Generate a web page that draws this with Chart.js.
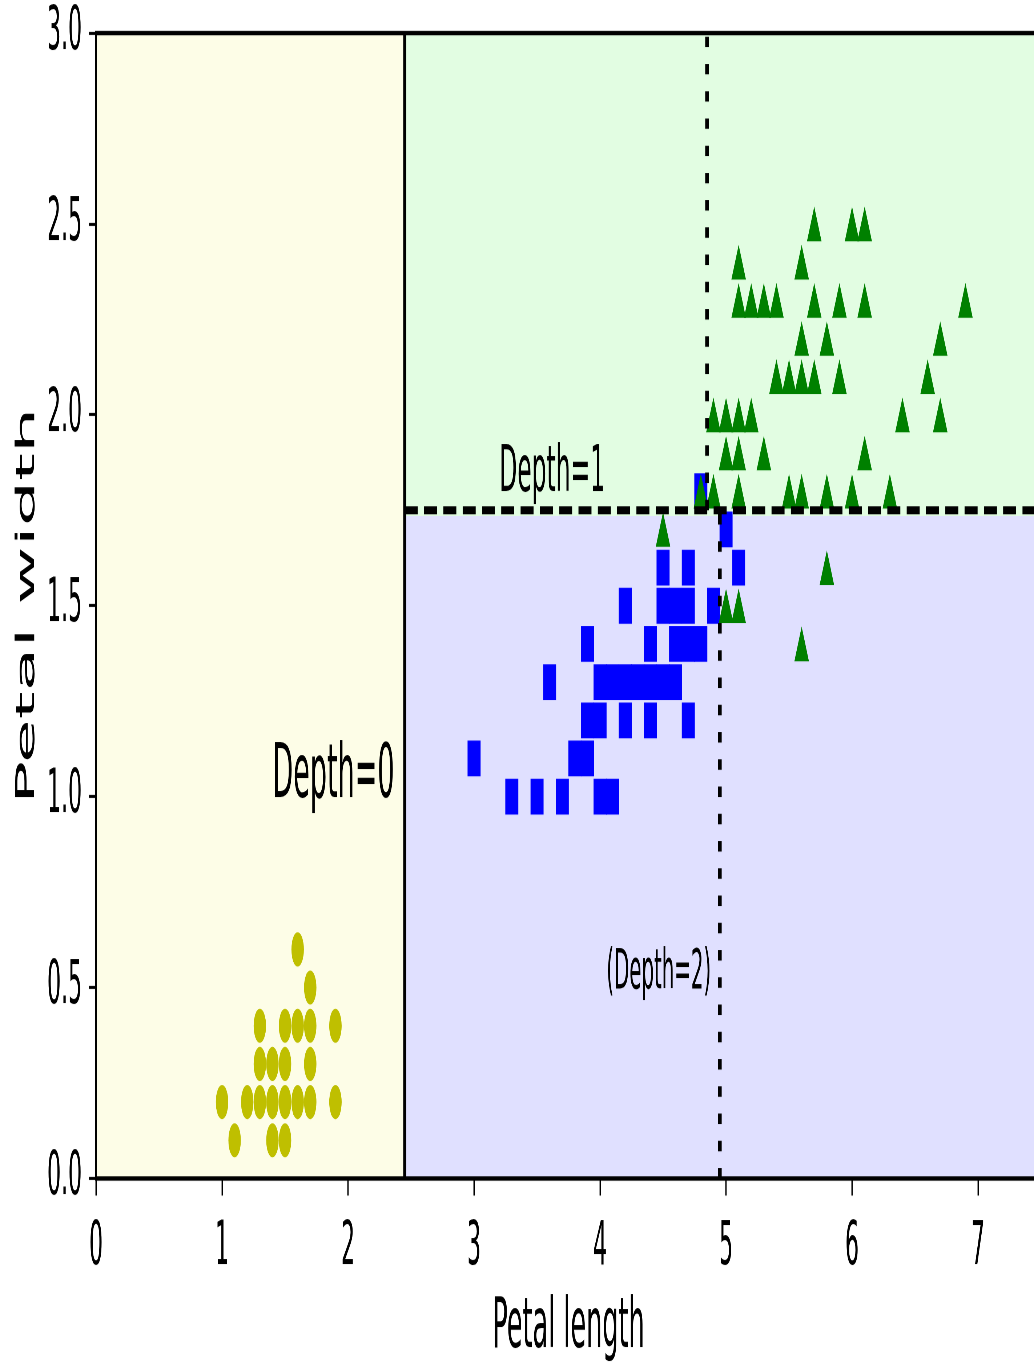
<!DOCTYPE html>
<html>
<head>
<meta charset="utf-8">
<title>Decision tree boundaries - iris petals</title>
<script src="https://cdn.jsdelivr.net/npm/chart.js@4.4.0/dist/chart.umd.min.js"></script>
<style>
  html { margin: 0; padding: 0; background: #fff; overflow: hidden; }
  body { margin: 0; padding: 0; background: #fff; width: 1034px; height: 1365px; }
  /* the reference is a tall, vertically stretched figure: draw flat, then stretch */
  #stage { width: 1050px; height: 496px; transform: scaleY(2.7521); transform-origin: 0 0; }
  #chart { display: block; }
</style>
</head>
<body>
<div id="stage"><canvas id="chart" width="1050" height="496"></canvas></div>
<script>
// ===== DATA (petal length, petal width) =====
const xTickValues = [0, 1, 2, 3, 4, 5, 6, 7];
const yTickValues = [0, 0.5, 1.0, 1.5, 2.0, 2.5, 3.0];

const setosaPoints = [
  [1.6, 0.6], [1.7, 0.5],
  [1.3, 0.4], [1.5, 0.4], [1.6, 0.4], [1.7, 0.4], [1.9, 0.4],
  [1.3, 0.3], [1.4, 0.3], [1.5, 0.3], [1.7, 0.3],
  [1.0, 0.2], [1.2, 0.2], [1.3, 0.2], [1.4, 0.2], [1.5, 0.2], [1.6, 0.2], [1.7, 0.2], [1.9, 0.2],
  [1.1, 0.1], [1.4, 0.1], [1.5, 0.1]
];

const versicolorPoints = [
  [4.8, 1.8], [5.0, 1.7],
  [4.5, 1.6], [4.7, 1.6], [5.1, 1.6],
  [4.2, 1.5], [4.5, 1.5], [4.6, 1.5], [4.7, 1.5], [4.9, 1.5],
  [3.9, 1.4], [4.4, 1.4], [4.6, 1.4], [4.7, 1.4], [4.8, 1.4],
  [3.6, 1.3], [4.0, 1.3], [4.1, 1.3], [4.2, 1.3], [4.3, 1.3], [4.4, 1.3], [4.5, 1.3], [4.6, 1.3],
  [3.9, 1.2], [4.0, 1.2], [4.2, 1.2], [4.4, 1.2], [4.7, 1.2],
  [3.0, 1.1], [3.8, 1.1], [3.9, 1.1],
  [3.3, 1.0], [3.5, 1.0], [3.7, 1.0], [4.0, 1.0], [4.1, 1.0]
];

const virginicaPoints = [
  [5.7, 2.5], [6.0, 2.5], [6.1, 2.5],
  [5.1, 2.4], [5.6, 2.4],
  [5.1, 2.3], [5.2, 2.3], [5.3, 2.3], [5.4, 2.3], [5.7, 2.3], [5.9, 2.3], [6.1, 2.3], [6.9, 2.3],
  [5.6, 2.2], [5.8, 2.2], [6.7, 2.2],
  [5.4, 2.1], [5.5, 2.1], [5.6, 2.1], [5.7, 2.1], [5.9, 2.1], [6.6, 2.1],
  [4.9, 2.0], [5.0, 2.0], [5.1, 2.0], [5.2, 2.0], [6.4, 2.0], [6.7, 2.0],
  [5.0, 1.9], [5.1, 1.9], [5.3, 1.9], [6.1, 1.9],
  [4.8, 1.8], [4.9, 1.8], [5.1, 1.8], [5.5, 1.8], [5.6, 1.8], [5.8, 1.8], [6.0, 1.8], [6.3, 1.8],
  [4.5, 1.7], [5.8, 1.6], [5.0, 1.5], [5.1, 1.5], [5.6, 1.4]
];

// decision tree splits
const depth0Split = [[2.45, 0], [2.45, 3]];
const depth1Split = [[2.45, 1.75], [7.5, 1.75]];
const depth2SplitLow = [[4.95, 0], [4.95, 1.75]];
const depth2SplitHigh = [[4.85, 1.75], [4.85, 3]];

const depthLabels = ['Depth=0', 'Depth=1', '(Depth=2)'];
const depthLabelAnchors = [[1.40, 1.0], [3.2, 1.80], [4.05, 0.5]];

// predicted class regions: [xmin, xmax, ymin, ymax]
const regionSetosa = [0, 2.45, 0, 3];
const regionVersicolor = [2.45, 7.5, 0, 1.735];
const regionVirginica = [2.45, 7.5, 1.735, 3];

// ===== HELPERS =====
const toXY = pts => pts.map(([x, y]) => ({ x, y }));
const FONT = "'DejaVu Sans', sans-serif";
const TRI_RADIUS = 8.4;

function splitLine(points, dash, width) {
  return {
    data: toXY(points),
    showLine: true,
    borderColor: '#000',
    borderWidth: width,
    borderDash: dash,
    borderCapStyle: 'butt',
    pointRadius: 0,
    order: 0
  };
}

// regions behind the points, labels and spines on top
const treeDecor = {
  id: 'treeDecor',
  beforeDatasetsDraw(chart) {
    const { ctx, chartArea: a, scales: { x, y } } = chart;
    const fills = [
      [regionSetosa, '#fdfde7'],
      [regionVersicolor, '#e0e0ff'],
      [regionVirginica, '#e2fde2']
    ];
    ctx.save();
    ctx.beginPath();
    ctx.rect(a.left, a.top, a.width, a.height);
    ctx.clip();
    fills.forEach(([r, color]) => {
      const x0 = x.getPixelForValue(r[0]), x1 = x.getPixelForValue(r[1]);
      const y0 = y.getPixelForValue(r[2]), y1 = y.getPixelForValue(r[3]);
      ctx.fillStyle = color;
      ctx.fillRect(x0, y1, x1 - x0, y0 - y1);
    });
    ctx.restore();
  },
  beforeDatasetDraw(chart, args) {
    // Chart.js triangles hang from their circumcentre; centre them on the value like '^'
    if (chart.data.datasets[args.index].label === 'virginica') {
      chart.ctx.save();
      chart.ctx.translate(0, TRI_RADIUS / 4);
    }
  },
  afterDatasetDraw(chart, args) {
    if (chart.data.datasets[args.index].label === 'virginica') chart.ctx.restore();
  },
  afterDatasetsDraw(chart) {
    const { ctx, scales: { x, y } } = chart;
    const sizes = [27, 23.4, 19.8];
    ctx.save();
    ctx.fillStyle = '#000';
    ctx.textAlign = 'left';
    ctx.textBaseline = 'alphabetic';
    depthLabels.forEach((txt, i) => {
      ctx.font = `${sizes[i]}px ${FONT}`;
      ctx.fillText(txt, x.getPixelForValue(depthLabelAnchors[i][0]), y.getPixelForValue(depthLabelAnchors[i][1]));
    });
    ctx.restore();
  },
  afterDraw(chart) {
    const { ctx, chartArea: a } = chart;
    ctx.save();
    ctx.strokeStyle = '#000';
    ctx.lineWidth = 1.6;
    ctx.strokeRect(a.left, a.top, a.width, a.height);
    ctx.restore();
  }
};

// ===== CHART =====
const chart = new Chart(document.getElementById('chart'), {
  type: 'scatter',
  data: {
    datasets: [
      splitLine(depth0Split, [], 3),
      splitLine(depth1Split, [13, 6.3], 2.9),
      splitLine(depth2SplitLow, [3.8, 6.1], 3.8),
      splitLine(depth2SplitHigh, [3.8, 6.1], 3.8),
      {
        label: 'virginica',
        data: toXY(virginicaPoints),
        pointStyle: 'triangle',
        pointRadius: TRI_RADIUS,
        backgroundColor: '#008000',
        borderWidth: 0,
        order: 1
      },
      {
        label: 'versicolor',
        data: toXY(versicolorPoints),
        pointStyle: 'rect',
        pointRadius: 9.2,
        backgroundColor: '#0000ff',
        borderWidth: 0,
        order: 2
      },
      {
        label: 'setosa',
        data: toXY(setosaPoints),
        pointStyle: 'circle',
        pointRadius: 6.2,
        backgroundColor: '#bfbf00',
        borderWidth: 0,
        order: 3
      }
    ]
  },
  options: {
    responsive: false,
    devicePixelRatio: 2.7521,
    animation: false,
    events: [],
    layout: { padding: { left: 0, right: 4, top: 12, bottom: 0 } },
    plugins: { legend: { display: false }, tooltip: { enabled: false } },
    scales: {
      x: {
        type: 'linear',
        position: 'bottom',
        min: 0,
        max: 7.5,
        afterBuildTicks: s => { s.ticks = xTickValues.map(v => ({ value: v })); },
        afterFit: s => { s.height = 67.8; s.paddingLeft = 0; s.paddingRight = 0; },
        border: { display: false },
        grid: { display: true, drawOnChartArea: false, drawTicks: true, tickLength: 6.2, tickWidth: 1.3, tickColor: '#000' },
        ticks: { autoSkip: false, maxRotation: 0, padding: 6, color: '#000', font: { family: FONT, size: 22 }, callback: v => String(v) },
        title: { display: true, text: 'Petal length', color: '#000', font: { family: FONT, size: 25.5 }, padding: { top: 0, bottom: -2 } }
      },
      y: {
        type: 'linear',
        min: 0,
        max: 3,
        afterBuildTicks: s => { s.ticks = yTickValues.map(v => ({ value: v })); },
        afterFit: s => { s.width = 96; s.paddingTop = 0; s.paddingBottom = 0; },
        border: { display: false },
        grid: { display: true, drawOnChartArea: false, drawTicks: true, tickLength: 7, tickWidth: 1.1, tickColor: '#000' },
        ticks: { autoSkip: false, padding: 7, color: '#000', font: { family: FONT, size: 22 }, callback: v => v.toFixed(1) },
        title: { display: true, text: 'Petal width', color: '#000', font: { family: FONT, size: 26 }, padding: { top: 11.7, bottom: 0 } }
      }
    }
  },
  plugins: [treeDecor]
});
console.log('chart area', JSON.stringify(chart.chartArea));
</script>
</body>
</html>
